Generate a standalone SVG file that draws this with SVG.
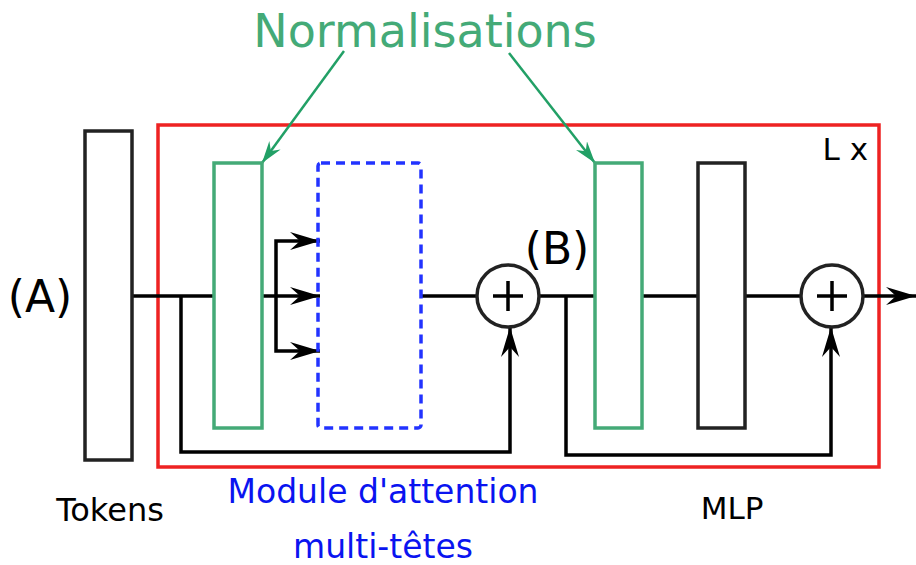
<svg xmlns="http://www.w3.org/2000/svg" width="916" height="565" viewBox="0 0 916 565">
<defs>
<style>
text{font-family:"DejaVu Sans","Liberation Sans",sans-serif}
.blk{fill:none;stroke:#222;stroke-width:3.5}
.grn{fill:none;stroke:#44aa77;stroke-width:3.5}
.ln{fill:none;stroke:#000;stroke-width:3.5}
.ga{fill:none;stroke:#22a066;stroke-width:2.5}
</style>
<marker id="ah" viewBox="0 0 30 18" refX="30" refY="9" markerWidth="30" markerHeight="18" markerUnits="userSpaceOnUse" orient="auto">
<path d="M0,0 L30,9 L0,18 L10,9 Z" fill="#000"/>
</marker>
<marker id="gh" viewBox="0 0 22 14" refX="22" refY="7" markerWidth="22" markerHeight="14" markerUnits="userSpaceOnUse" orient="auto">
<path d="M0,0 L22,7 L0,14 L7,7 Z" fill="#22a066"/>
</marker>
</defs>
<rect width="916" height="565" fill="#fff"/>
<g id="block">
<rect x="158" y="125" width="721" height="342" fill="none" stroke="#ee2222" stroke-width="3.5"/>
<text x="868" y="160" font-size="31" text-anchor="end" fill="#000">L x</text>
</g>
<g id="connectors">
<path class="ln" d="M133,296 H214"/>
<path class="ln" d="M262,296 H320" marker-end="url(#ah)"/>
<path class="ln" d="M276,296 V241 H320" marker-end="url(#ah)"/>
<path class="ln" d="M276,296 V351 H320" marker-end="url(#ah)"/>
<path class="ln" d="M421,296 H477"/>
<path class="ln" d="M181,296 V452 H510 V327" marker-end="url(#ah)"/>
<path class="ln" d="M539,296 H595"/>
<path class="ln" d="M642,296 H698"/>
<path class="ln" d="M745,296 H801"/>
<path class="ln" d="M566,296 V455 H831 V327" marker-end="url(#ah)"/>
<path class="ln" d="M862,296 H916" marker-end="url(#ah)"/>
<path class="ga" d="M344,51 L262,163" marker-end="url(#gh)"/>
<path class="ga" d="M509,53 L595,163" marker-end="url(#gh)"/>
</g>
<g id="tokens">
<rect class="blk" x="85" y="131" width="47" height="329"/>
<text x="110" y="521" font-size="32" text-anchor="middle" fill="#000">Tokens</text>
<text x="40" y="312" font-size="44" text-anchor="middle" fill="#000">(A)</text>
</g>
<g id="norm1"><rect class="grn" x="214" y="163" width="48" height="265"/></g>
<g id="attention">
<rect x="318" y="163" width="103" height="265" rx="3" fill="none" stroke="#2233ff" stroke-width="3.5" stroke-dasharray="9,6"/>
<text x="383" y="503" font-size="33" text-anchor="middle" fill="#0a14f0">Module d'attention</text>
<text x="383" y="558" font-size="33" text-anchor="middle" fill="#0a14f0">multi-têtes</text>
</g>
<g id="add1">
<circle class="blk" cx="508" cy="296" r="31"/>
<path class="ln" d="M508,281 V311 M493,296 H523"/>
<text x="557" y="264" font-size="44" text-anchor="middle" fill="#000">(B)</text>
</g>
<g id="norm2"><rect class="grn" x="595" y="163" width="47" height="265"/></g>
<g id="mlp">
<rect class="blk" x="698" y="163" width="47" height="265"/>
<text x="732" y="519" font-size="31" text-anchor="middle" fill="#000">MLP</text>
</g>
<g id="add2">
<circle class="blk" cx="832" cy="296" r="31"/>
<path class="ln" d="M832,281 V311 M817,296 H847"/>
</g>
<g id="label">
<text x="425" y="47" font-size="46" text-anchor="middle" fill="#44aa77">Normalisations</text>
</g>
</svg>
